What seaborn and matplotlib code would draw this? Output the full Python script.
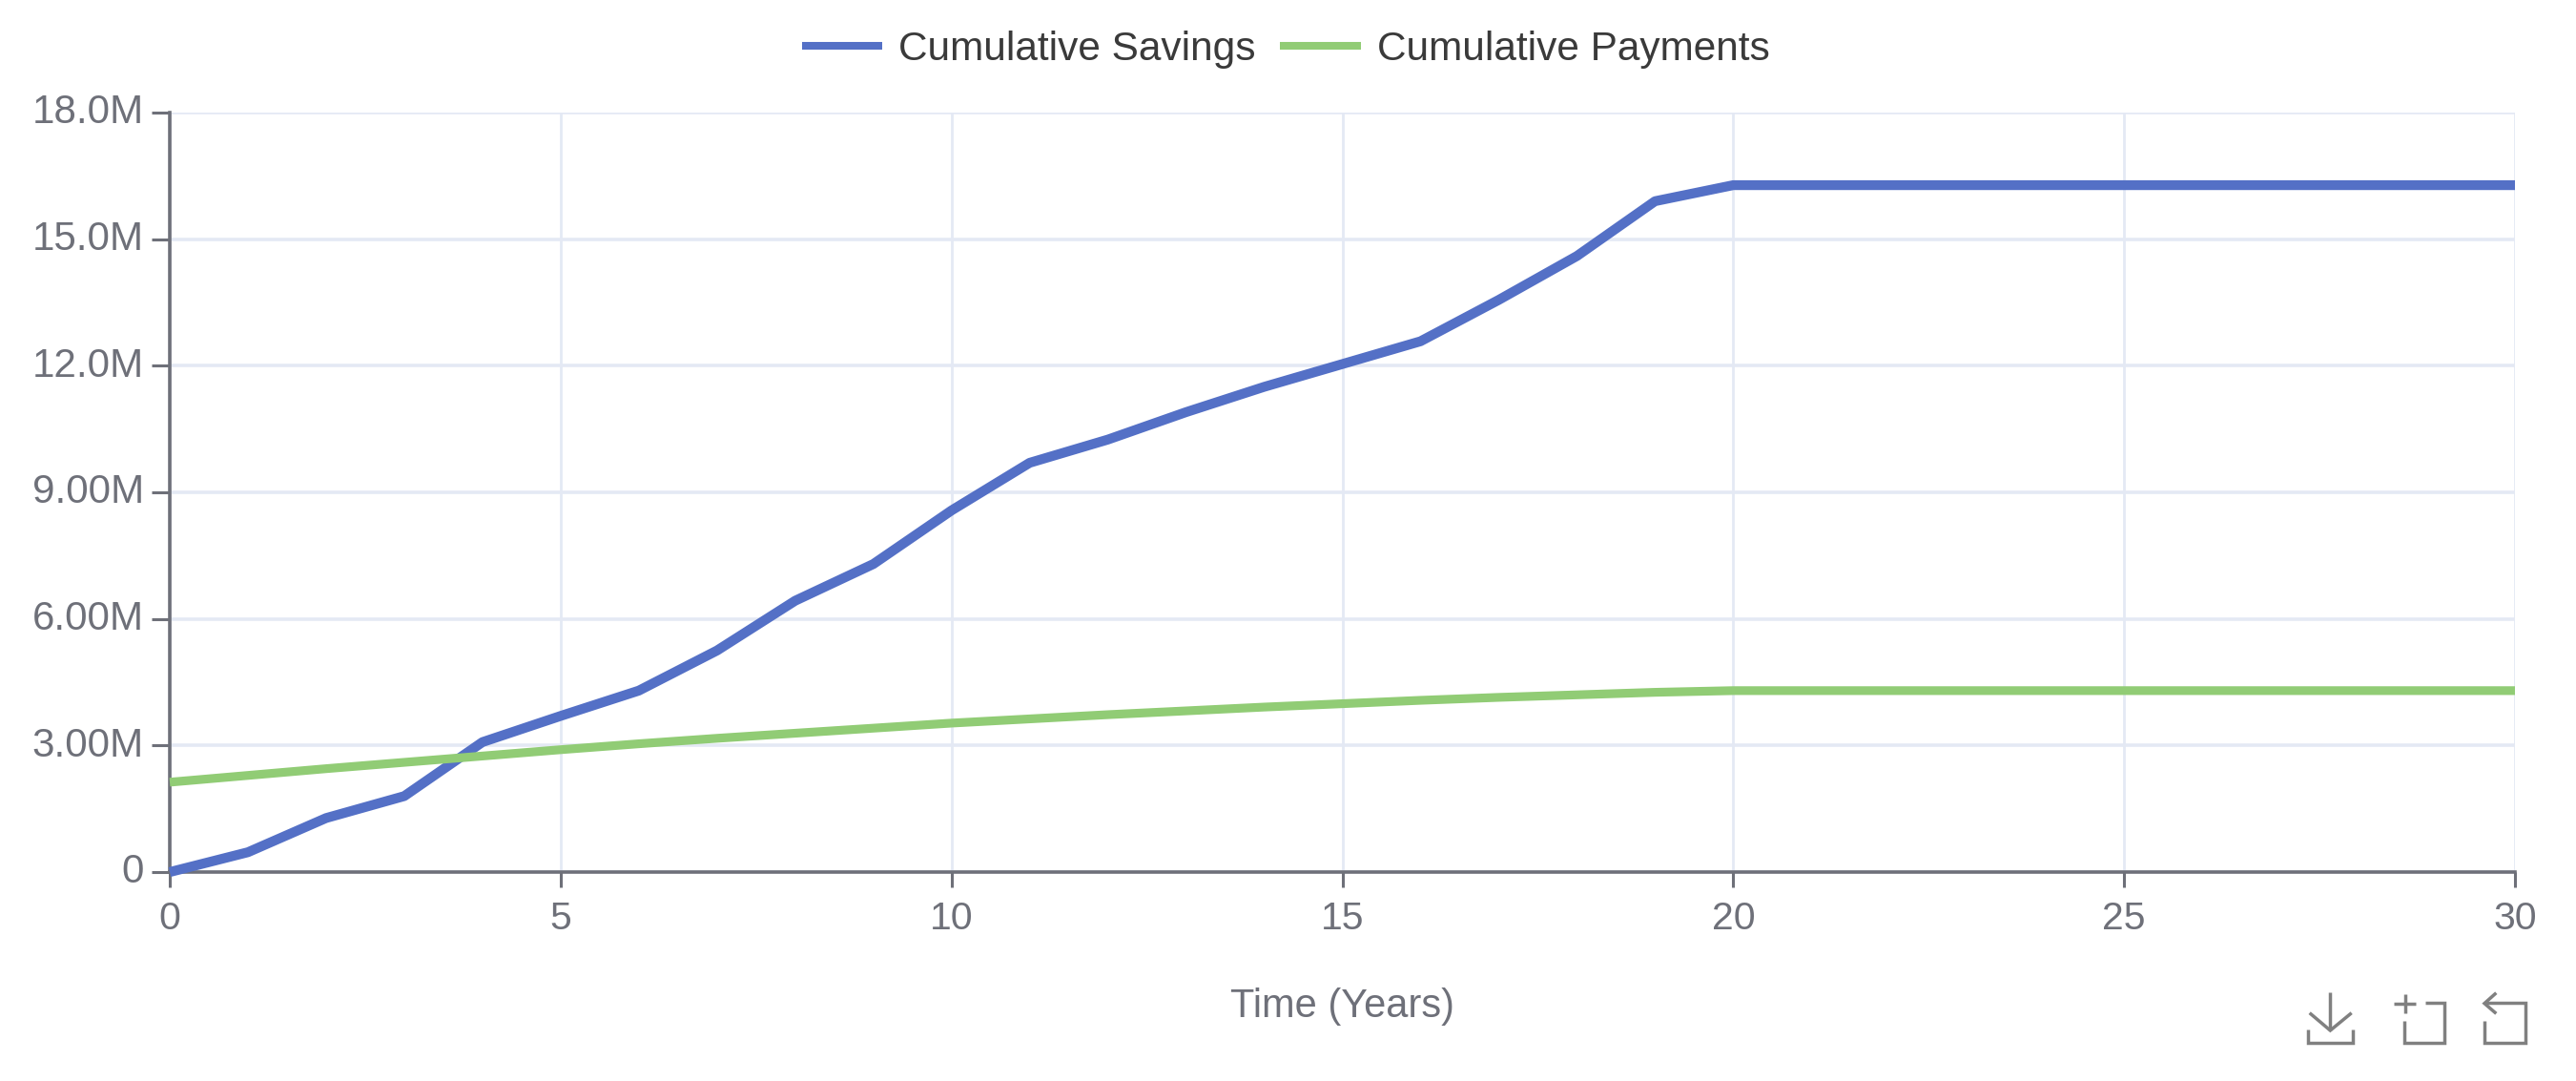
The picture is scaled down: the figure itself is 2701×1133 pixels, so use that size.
import pandas as pd
import matplotlib.pyplot as plt
from matplotlib.lines import Line2D
from matplotlib.transforms import ScaledTranslation
import seaborn as sns

years = list(range(31))
savings = [0, 0.47, 1.28, 1.8, 3.08, 3.7, 4.3, 5.25, 6.43, 7.3, 8.57, 9.7, 10.25, 10.9, 11.5,
           12.04, 12.58, 13.56, 14.6, 15.9, 16.28] + [16.28] * 10
payments = [2.13, 2.29, 2.45, 2.6, 2.75, 2.9, 3.04, 3.17, 3.29, 3.41, 3.53, 3.63, 3.73, 3.82, 3.91,
            3.99, 4.07, 4.14, 4.2, 4.26, 4.3] + [4.3] * 10
series_names = ["Cumulative Savings", "Cumulative Payments"]
x_ticks = [0, 5, 10, 15, 20, 25, 30]
y_ticks = [0, 3, 6, 9, 12, 15, 18]
y_labels = ["0", "3.00M", "6.00M", "9.00M", "12.0M", "15.0M", "18.0M"]

W, H = 2701, 1133
AXIS = "#6E7079"
GRID = "#E4E9F4"


def add_icon(fig, points):
    # points are in the 3x crop coordinates of the bottom right corner
    xs = [(2200 + p[0] / 3) / W for p in points]
    ys = [1 - (850 + p[1] / 3) / H for p in points]
    fig.add_artist(Line2D(xs, ys, color="#808080", lw=2.5, solid_capstyle="butt", solid_joinstyle="miter"))


df = pd.DataFrame({
    "Year": years * 2,
    "Value": savings + payments,
    "Series": [series_names[0]] * 31 + [series_names[1]] * 31,
})

sns.set_theme(style="white")
plt.rcParams["font.family"] = ["Liberation Sans", "DejaVu Sans"]

fig = plt.figure(figsize=(W / 100, H / 100), dpi=100)
ax = fig.add_axes([178 / W, 1 - 914 / H, (2637 - 178) / W, (914 - 118) / H])

sns.lineplot(data=df, x="Year", y="Value", hue="Series", hue_order=series_names,
             palette=["#5470C6", "#91CC75"], linewidth=7.4, errorbar=None, ax=ax,
             legend=False, zorder=3, solid_capstyle="butt", clip_on=False)
ax.lines[1].set_linewidth(6.6)

ax.set_xlim(0, 30)
ax.set_ylim(0, 18)
ax.set_xticks(x_ticks)
ax.set_yticks(y_ticks)
ax.set_yticklabels(y_labels)
ax.set_axisbelow(True)
ax.grid(True, axis="y", color=GRID, lw=2.6)
ax.grid(True, axis="x", color=GRID, lw=2.0)

ax.tick_params(axis="y", length=13.5, width=2.2, color=AXIS, labelcolor=AXIS, labelsize=30.3, pad=6, left=True)
ax.tick_params(axis="x", length=11.5, width=2.2, color=AXIS, labelcolor=AXIS, labelsize=29.5, pad=10, bottom=True)
ax.set_xlabel("Time (Years)", fontsize=30, color=AXIS, labelpad=38)
ax.set_ylabel("")

# y tick labels sit a little above their ticks in the reference
up = ScaledTranslation(0, 3 / 72, fig.dpi_scale_trans)
for label in ax.get_yticklabels():
    label.set_transform(label.get_transform() + up)

sns.despine(ax=ax, top=True, right=True)
for side in ["left", "bottom"]:
    ax.spines[side].set_color(AXIS)
    ax.spines[side].set_linewidth(2.6)

handles = [Line2D([], [], color="#5470C6", lw=5.8, solid_capstyle="butt"),
           Line2D([], [], color="#91CC75", lw=5.8, solid_capstyle="butt")]
fig.legend(handles, series_names, loc="center", bbox_to_anchor=(1348 / W, 1 - 52 / H), ncol=2, frameon=False,
           fontsize=30.5, labelcolor="#3A3A3A", handlelength=2.0, handletextpad=0.4, columnspacing=0.6,
           borderpad=0, borderaxespad=0)

# toolbox icons
add_icon(fig, [(730, 570), (730, 690)])
add_icon(fig, [(665, 635), (730, 690), (797, 635)])
add_icon(fig, [(660, 688), (660, 730), (800, 730), (800, 688)])
add_icon(fig, [(930, 605), (1000, 605)])
add_icon(fig, [(965, 575), (965, 635)])
add_icon(fig, [(1030, 603), (1088, 603), (1088, 730), (963, 730), (963, 660)])
add_icon(fig, [(1215, 603), (1345, 603), (1345, 730), (1215, 730), (1215, 660)])
add_icon(fig, [(1252, 572), (1215, 605), (1252, 637)])

fig.savefig("out.png", dpi=100)
